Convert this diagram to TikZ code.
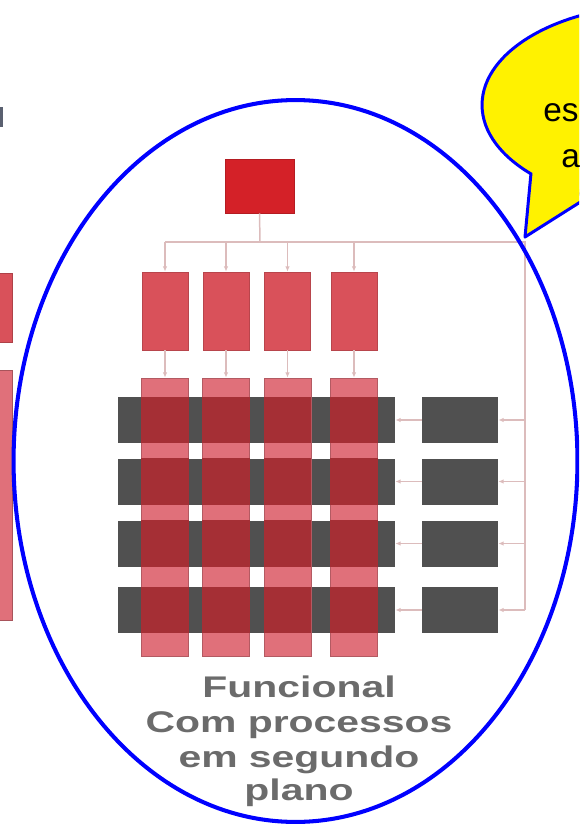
\documentclass[tikz,border=0pt]{standalone}
\usepackage{fontspec}
\setmainfont{Liberation Sans}
\usetikzlibrary{positioning,arrows.meta}

\definecolor{topred}{HTML}{D42128}
\definecolor{midred}{HTML}{D9515A}
\definecolor{colpink}{HTML}{E0707A}
\definecolor{crossred}{HTML}{A52F35}
\definecolor{rowgray}{HTML}{505050}
\definecolor{linkgray}{HTML}{DCBCBC}
\definecolor{titlegray}{HTML}{6B6B6B}
\definecolor{fraggray}{HTML}{5A6070}

\begin{document}
\begin{tikzpicture}[x=0.02cm,y=-0.02cm,>={Latex[length=3pt,width=2.5pt]},
	topbox/.style={rectangle,inner sep=0pt,fill=topred,draw=topred!85!black,minimum width=1.38cm,minimum height=1.08cm},
	unitbox/.style={rectangle,inner sep=0pt,fill=midred,draw=midred!85!black,minimum width=0.92cm,minimum height=1.56cm},
	colbox/.style={rectangle,inner sep=0pt,fill=colpink,draw=colpink!80!black,minimum width=0.94cm,minimum height=5.56cm},
	rowbox/.style={rectangle,inner sep=0pt,fill=rowgray,minimum width=5.54cm,minimum height=0.92cm},
	sidebox/.style={rectangle,inner sep=0pt,fill=rowgray,minimum width=1.52cm,minimum height=0.92cm},
	link/.style={draw=linkgray,line width=0.85pt},
	ttl/.style={anchor=base,inner sep=0pt,text=titlegray,font=\fontsize{17}{20}\selectfont\bfseries,xscale=1.37,transform shape},
	ring/.style={draw=blue,line width=2.3pt},
	bubble/.style={fill=yellow,draw=blue,line width=1.7pt,line join=round}
	]

	\useasboundingbox (0,0) rectangle (579,827);
	\clip (0,0) rectangle (579,827);

	% pieces of the picture on the left
	\fill[fraggray] (0,107) rectangle (3,127);
	\filldraw[fill=midred,draw=midred!80!black] (-2,273) rectangle (12,342);
	\filldraw[fill=colpink,draw=colpink!75!black] (-2,370) rectangle (12,620);

	\node[topbox] (top) at (259.5,186) {};
	\coordinate (bus) at (260,242);
	\coordinate (busl) at (165,242);
	\coordinate (busr) at (525,242);

	\foreach \j/\y in {1/420,2/481.5,3/543.5,4/610} {
		\node[rowbox] (r\j) at (256.5,\y) {};
		\node[sidebox] (s\j) at (460,\y) {};
	}

	\foreach \i/\x in {1/165,2/226,3/287.5,4/354} {
		\node[unitbox] (u\i) at (\x,311) {};
		\node[colbox] (c\i) at (\x,517) {};
	}

	\foreach \i in {1,...,4}
		\foreach \j in {1,...,4}
			\fill[crossred] (c\i.west |- r\j.north) rectangle (c\i.east |- r\j.south);

	\draw[link] (top.south) -- (bus);
	\draw[link] (busl) -- (busr) -- (busr |- r4);
	\foreach \i in {1,...,4} {
		\draw[link,->] (u\i.north |- bus) -- (u\i.north);
		\draw[link,->] (u\i.south) -- (c\i.north);
	}
	\foreach \j in {1,...,4} {
		\draw[link,->] (busr |- s\j) -- (s\j.east);
		\draw[link,->] (s\j.west) -- (r\j.east);
	}

	% label
	\node[ttl] (ttl1) at (299,697) {Funcional};
	\node[ttl] (ttl2) at (299,732) {Com processos};
	\node[ttl] (ttl3) at (299,767) {em segundo};
	\node[ttl] (ttl4) at (299,800) {plano};

	\draw[ring] (295.5,461) ellipse [x radius=5.64cm, y radius=7.22cm];

	% callout
	\coordinate (tip) at (525,237);
	\fill[yellow] (660,105) ellipse [x radius=3.56cm, y radius=2cm];
	\draw[bubble] (660,105) ellipse [x radius=3.56cm, y radius=2cm];
	\fill[yellow] (531,173) -- (tip) -- (589,196.5) -- (560,175) -- cycle;
	\draw[bubble,fill=none] (531,173) -- (tip) -- (589,196.5);
	\node[anchor=base west,inner sep=0pt,font=\fontsize{19}{23}\selectfont] (say1) at (543,122) {es};
	\node[anchor=base west,inner sep=0pt,font=\fontsize{19}{23}\selectfont] (say2) at (561,168) {a};

\end{tikzpicture}
\end{document}
